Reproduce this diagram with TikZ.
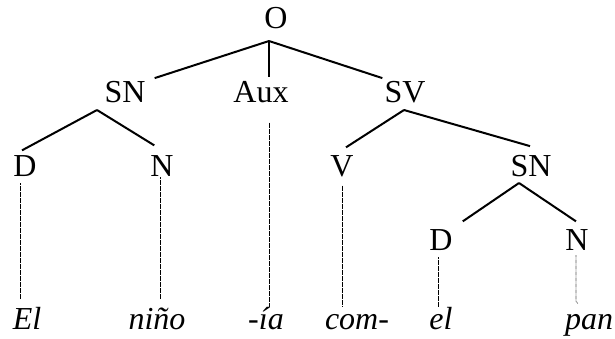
\documentclass[tikz,border=0pt]{standalone}
\usepackage{fontspec}
\setmainfont{Liberation Serif}
\usetikzlibrary{calc}
\newcommand{\treeFont}{\fontsize{32}{36}\selectfont}

\begin{document}
\begin{tikzpicture}[x=1pt, y=-1pt, font=\treeFont,
	cat/.style={anchor=base, inner sep=0pt},
	word/.style={anchor=base, inner sep=0pt, font=\treeFont\itshape},
	branch/.style={line width=2pt},
	trace/.style={line width=0.6pt, dash pattern=on 0.5pt off 0.7pt}]
	\useasboundingbox (0,0) rectangle (615,338);
	\def\rowA{28}
	\def\rowB{102}
	\def\rowC{176}
	\def\rowD{250}
	\def\rowW{329}

	% categories
	\node[cat] (O)    at (276,\rowA) {O};
	\node[cat] (SN)   at (125,\rowB) {SN};
	\node[cat] (Aux)  at (261,\rowB) {Aux};
	\node[cat] (SV)   at (405,\rowB) {SV};
	\node[cat] (D)    at (25,\rowC)  {D};
	\node[cat] (N)    at (162,\rowC) {N};
	\node[cat] (V)    at (342,\rowC) {V};
	\node[cat] (SNb)  at (531,\rowC) {SN};
	\node[cat] (Db)   at (441,\rowD) {D};
	\node[cat] (Nb)   at (577,\rowD) {N};

	% words
	\node[word] (el)   at (27,\rowW)  {El};
	\node[word] (nino) at (157,\rowW) {niño};
	\node[word] (ia)   at (266,\rowW) {-ía};
	\node[word] (com)  at (357,\rowW) {com-};
	\node[word] (elb)  at (441,\rowW) {el};
	\node[word] (pan)  at (589,\rowW) {pan};

	% forks
	\coordinate (O-fork)   at (269,41);
	\coordinate (SN-fork)  at (97,110);
	\coordinate (SV-fork)  at (404,110);
	\coordinate (SNb-fork) at (519,183);

	\draw[branch]	(O-fork) -- ([shift={(9,-2.5)}]SN.north east);
	\draw[branch]	(O-fork) -- ([shift={(8,-3.5)}]Aux.north);
	\draw[branch]	(O-fork) -- ([shift={(-2,-2.5)}]SV.north west);
	\draw[branch]	(SN-fork) -- ([shift={(-3,-4.5)}]D.north);
	\draw[branch]	(SN-fork) -- ([shift={(4,-9.5)}]N.north west);
	\draw[branch]	(SV-fork) -- ([shift={(4,-7.5)}]V.north);
	\draw[branch]	(SV-fork) -- ([shift={(-1,-8.5)}]SNb.north);
	\draw[branch]	(SNb-fork) -- ([shift={(10,-7.5)}]Db.north east);
	\draw[branch]	(SNb-fork) -- ([shift={(-1,-7.5)}]Nb.north);

	% dotted lines down to the words
	\draw[trace]	([shift={(-5,7)}]D.south) -- ([shift={(-7,-8)}]el.north);
	\draw[trace]	([shift={(-2,1)}]N.south) -- ([shift={(3,-8)}]nino.north);
	\draw[trace]	([shift={(8,20)}]Aux.south) -- ([shift={(3,0)}]ia.north);
	\draw[trace]	([shift={(0,9)}]V.south) -- ([shift={(-15,-8)}]com.north);
	\draw[trace]	([shift={(-3,7)}]Db.south) -- ([shift={(-3,0)}]elb.north);
	\draw[trace]	([shift={(-1,5)}]Nb.south) -- ++(0,46) -- ([shift={(-11,-10)}]pan.north);
\end{tikzpicture}
\end{document}
